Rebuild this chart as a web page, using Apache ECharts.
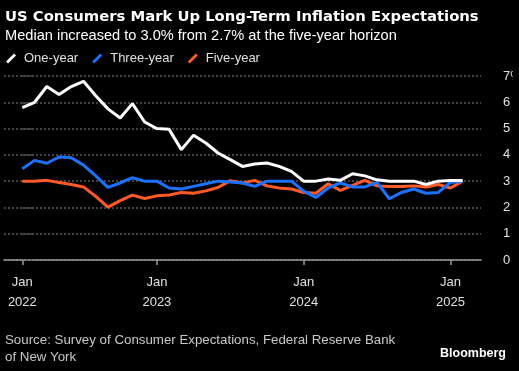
<!DOCTYPE html>
<html>
<head>
<meta charset="utf-8">
<script src="https://cdn.jsdelivr.net/npm/echarts@6/dist/echarts.min.js"></script>
<style>
html,body{margin:0;padding:0;background:#000;overflow:hidden;}
#c{width:513px;height:371px;}
</style>
</head>
<body>
<div id="c"></div>
<script>
// Monthly survey points, Jan 2022 .. Jan 2025 (index = position on x axis)
var months = ['Jan 2022','Feb 2022','Mar 2022','Apr 2022','May 2022','Jun 2022','Jul 2022','Aug 2022','Sep 2022','Oct 2022','Nov 2022','Dec 2022',
  'Jan 2023','Feb 2023','Mar 2023','Apr 2023','May 2023','Jun 2023','Jul 2023','Aug 2023','Sep 2023','Oct 2023','Nov 2023','Dec 2023',
  'Jan 2024','Feb 2024','Mar 2024','Apr 2024','May 2024','Jun 2024','Jul 2024','Aug 2024','Sep 2024','Oct 2024','Nov 2024','Dec 2024','Jan 2025'];
var oneYear = [5.8,6.0,6.6,6.3,6.6,6.8,6.25,5.75,5.4,5.95,5.25,5.0,
  4.97,4.2,4.75,4.45,4.07,3.82,3.56,3.65,3.69,3.56,3.37,3.0,
  3.0,3.08,3.03,3.28,3.2,3.05,3.0,3.0,3.0,2.87,3.0,3.02,3.02];
var threeYear = [3.47,3.79,3.68,3.92,3.89,3.61,3.2,2.76,2.93,3.13,3.0,3.0,
  2.74,2.7,2.8,2.9,3.0,2.97,2.93,2.8,3.0,3.0,3.0,2.62,
  2.38,2.74,2.93,2.78,2.78,2.95,2.33,2.57,2.7,2.54,2.57,2.95,3.0];
var fiveYear = [3.0,3.0,3.03,2.95,2.87,2.78,2.42,2.01,2.26,2.47,2.34,2.44,
  2.47,2.57,2.54,2.63,2.76,3.02,2.93,3.03,2.82,2.74,2.7,2.57,
  2.54,2.9,2.65,2.84,3.03,2.82,2.8,2.8,2.82,2.78,2.87,2.74,3.0];
// x tick positions (indices into months) and their labels
var xTickIdx = [0, 11, 23, 35];
var xTickLabels = ['Jan\n2022', 'Jan\n2023', 'Jan\n2024', 'Jan\n2025'];
var yTickLabels = ['0','1','2','3','4','5','6','7%'];

function pairs(arr){ return arr.map(function(v,i){ return [i, v]; }); }

var slash = 'path://M0,8 L8,0 L10,2 L2,10 Z';
var chart = echarts.init(document.getElementById('c'));
chart.setOption({
  backgroundColor: '#000',
  animation: false,
  title: [
    {text: 'US Consumers Mark Up Long-Term Inflation Expectations', left: 0, top: 5,
      textStyle: {color: '#fff', fontFamily: 'DejaVu Sans', fontWeight: 'bold', fontSize: 14.8}},
    {text: 'Median increased to 3.0% from 2.7% at the five-year horizon', left: 0, top: 23,
      textStyle: {color: '#fff', fontFamily: 'Liberation Sans', fontWeight: 'normal', fontSize: 14.6}},
    {text: 'Source: Survey of Consumer Expectations, Federal Reserve Bank\nof New York', left: 0, top: 327,
      textStyle: {color: '#c8c8c8', fontFamily: 'Liberation Sans', fontWeight: 'normal', fontSize: 13.3, lineHeight: 17}},
    {text: 'Bloomberg', left: 435, top: 342,
      textStyle: {color: '#fff', fontFamily: 'Liberation Sans', fontWeight: 'bold', fontSize: 12.5}}
  ],
  legend: {
    left: 1, top: 47, itemWidth: 10, itemHeight: 10, itemGap: 14,
    data: [
      {name: 'One-year', icon: slash},
      {name: 'Three-year', icon: slash},
      {name: 'Five-year', icon: slash}
    ],
    textStyle: {color: '#e0e0e0', fontFamily: 'Liberation Sans', fontSize: 13, padding: [0,0,0,3]}
  },
  grid: {left: 4, right: 32, top: 76, bottom: 111, outerBoundsMode: 'none', containLabel: false},
  xAxis: {
    type: 'value', min: -1.5, max: 37.5,
    splitLine: {show: false},
    axisLine: {show: true, onZero: false, lineStyle: {color: '#9a9a9a', width: 1.5}},
    axisTick: {show: true, customValues: xTickIdx, length: 5, lineStyle: {color: '#9a9a9a', width: 1.5}},
    axisLabel: {
      customValues: xTickIdx, margin: 12, lineHeight: 20,
      color: '#e0e0e0', fontFamily: 'Liberation Sans', fontSize: 13,
      formatter: function(v){ var k = xTickIdx.indexOf(Math.round(v)); return k >= 0 ? xTickLabels[k] : ''; }
    }
  },
  yAxis: {
    type: 'value', position: 'right', min: 0, max: 7, interval: 1,
    axisLine: {show: false},
    axisTick: {show: true, length: 12, lineStyle: {color: '#5a5a5a', type: [2,2], width: 1.5}},
    splitLine: {show: true, lineStyle: {color: '#5a5a5a', type: [2,2], width: 1.5}},
    axisLabel: {margin: 22, color: '#e0e0e0', fontFamily: 'Liberation Sans', fontSize: 13,
      formatter: function(v){ return yTickLabels[Math.round(v)]; }}
  },
  series: [
    {name: 'Five-year', type: 'line', data: pairs(fiveYear), showSymbol: false, color: '#ff5a28',
      lineStyle: {width: 3, color: '#ff5a28'}},
    {name: 'Three-year', type: 'line', data: pairs(threeYear), showSymbol: false, color: '#1a72ff',
      lineStyle: {width: 3, color: '#1a72ff'}},
    {name: 'One-year', type: 'line', data: pairs(oneYear), showSymbol: false, color: '#ffffff',
      lineStyle: {width: 3, color: '#ffffff'}}
  ]
});
</script>
</body>
</html>
